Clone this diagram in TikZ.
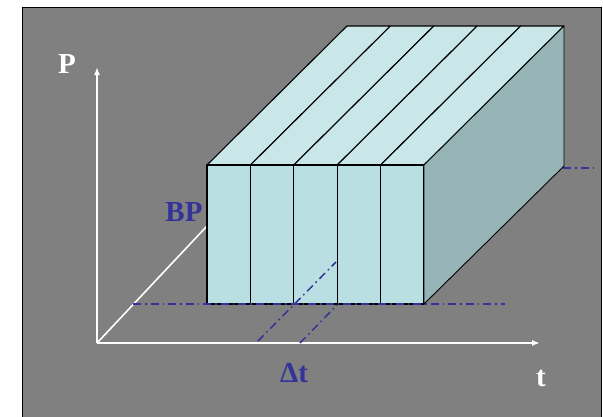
\documentclass[tikz,border=0pt]{standalone}
\usepackage{fontspec}
\setmainfont{Liberation Serif}
\usetikzlibrary{arrows.meta}
\begin{document}
\begin{tikzpicture}[x=1pt,y=-1pt,
  axis/.style={draw=white,line width=1.6pt},
  axarrow/.style={axis,-{Latex[length=8pt,width=6pt]}},
  facefront/.style={fill=frontc,draw=black,line width=1.1pt,line join=round},
  facetop/.style={fill=topc,draw=black,line width=1.1pt,line join=round},
  faceside/.style={fill=sidec,draw=black,line width=0.9pt,line join=round},
  dashdot/.style={draw=bluec,line width=1.5pt,dash pattern=on 8pt off 4pt on 1.5pt off 4pt},
  whitelab/.style={text=white,font=\fontsize{29}{30}\selectfont\bfseries,inner sep=0pt},
  bluelab/.style={text=bluec,font=\fontsize{29}{30}\selectfont\bfseries,inner sep=0pt}
]
\definecolor{frontc}{RGB}{185,223,226}
\definecolor{topc}{RGB}{201,231,233}
\definecolor{sidec}{RGB}{150,180,182}
\definecolor{bluec}{RGB}{51,51,153}
\definecolor{bgc}{RGB}{128,128,128}
\useasboundingbox (0,0) rectangle (603,416);
\fill[white] (0,0) rectangle (603,416);
\filldraw[fill=bgc,draw=black,line width=0.8pt] (22,7) rectangle (601,420);

% axes
\coordinate (O) at (97,343);
\coordinate (Ptip) at (97,67);
\coordinate (ttip) at (540,343);
\coordinate (Dend) at (207,226);
\draw[axarrow] (O) -- (Ptip);
\draw[axarrow] (O) -- (ttip);
\draw[axis] (O) -- (Dend);

% back-level dash-dot line
\coordinate (bk1) at (563,168);
\coordinate (bk2) at (596,168);
\draw[dashdot] (bk1) -- (bk2);

% slices
\foreach \i in {0,...,4}{
  \pgfmathsetmacro{\xa}{207+43.4*\i}
  \pgfmathsetmacro{\xb}{207+43.4*(\i+1)}
  \draw[facetop] (\xa,165) -- (\xa+140,26) -- (\xb+140,26) -- (\xb,165) -- cycle;
  \draw[facefront] (\xa,165) rectangle (\xb,304);
}
\draw[faceside] (424,165) -- (564,26) -- (564,166) -- (424,304) -- cycle;

% dash-dot lines over the box
\coordinate (h1) at (133,304);
\coordinate (h2) at (505,304);
\draw[dashdot] (h1) -- (h2);
\coordinate (d1a) at (258,341);
\coordinate (d1b) at (336,262);
\draw[dashdot] (d1a) -- (d1b);
\coordinate (d2a) at (300,343);
\coordinate (d2b) at (337,305);
\draw[dashdot] (d2a) -- (d2b);

% labels
\node[whitelab] (P) at (67,64) {P};
\node[whitelab] (t) at (541,378) {t};
\node[bluelab] (BP) at (184,212) {BP};
\node[bluelab] (dt) at (294,373) {Δt};
\end{tikzpicture}
\end{document}
